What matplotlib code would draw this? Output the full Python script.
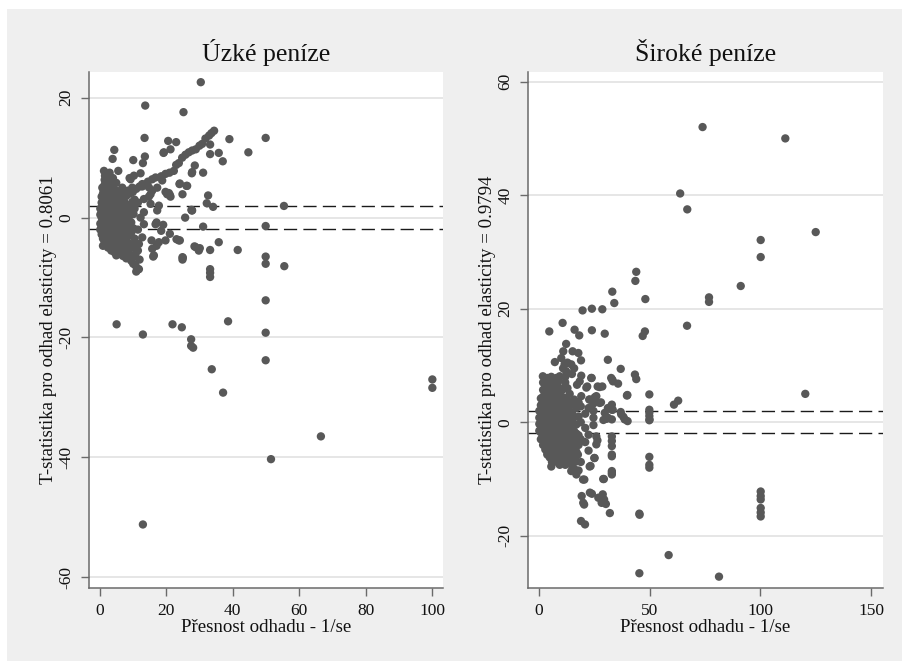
import matplotlib
matplotlib.use("Agg")
import matplotlib.pyplot as plt
import numpy as np

# ---------------- data: narrow money (Úzké peníze) ----------------
narrow_outliers = [
    (30.4, 22.6), (13.7, 18.7), (25.2, 17.6), (13.5, 13.3), (39.0, 13.1), (49.9, 13.3),
    (44.7, 10.9), (4.4, 11.3), (3.9, 9.8), (35.8, 10.8), (37.0, 9.4), (33.2, 12.2),
    (33.2, 10.6), (55.4, 1.95), (49.9, -1.4), (31.1, -1.5), (49.9, -6.5), (49.9, -7.7),
    (55.5, -8.1), (49.9, -13.8), (5.1, -17.8), (21.9, -17.8), (24.7, -18.3), (38.6, -17.3),
    (13.0, -19.5), (27.5, -20.3), (27.5, -21.4), (28.1, -21.7), (49.9, -19.2), (49.9, -23.8),
    (33.7, -25.3), (37.1, -29.2), (100.0, -27.0), (100.0, -28.4), (66.5, -36.5),
    (51.5, -40.3), (13.0, -51.2), (41.5, -5.4), (35.8, -4.1), (33.2, -8.6), (33.2, -9.2),
    (33.2, -9.9),
]
narrow_chain = [
    (34.4, 14.5), (33.6, 14.1), (32.9, 13.7), (31.8, 13.2), (30.8, 12.3), (30.0, 12.0),
    (28.9, 11.4), (27.8, 11.2), (26.8, 10.9), (25.8, 10.5), (24.8, 10.0), (23.8, 9.1),
    (23.0, 8.8), (22.3, 7.8), (21.0, 7.5), (19.8, 7.3), (18.5, 6.9), (16.8, 6.7),
    (15.8, 6.4), (14.5, 6.0), (13.0, 5.5), (12.0, 5.2), (11.0, 4.8), (10.0, 4.3), (9.0, 4.0),
    (19.2, 10.8), (20.6, 12.8), (23.0, 12.6), (21.3, 11.4), (19.3, 10.9),
]
narrow_mid = [
    (28.6, 8.7), (27.7, 7.4), (31.1, 7.5), (24.1, 5.7), (26.1, 5.3), (24.9, 3.9), (32.6, 3.7),
    (32.2, 2.4), (34.1, 1.8), (27.7, 1.2), (25.7, 0.0), (19.8, 4.3), (21.1, 3.8), (17.1, -0.8),
    (19.1, -1.2), (18.5, -2.2), (21.1, -2.7), (23.1, -3.6), (24.1, -3.8), (15.6, -3.8),
    (17.1, -4.7), (16.1, -6.5), (24.9, -6.6), (24.9, -7.0), (28.5, -4.8), (30.1, -5.1),
    (33.2, -5.4), (10.1, 9.6), (13.0, 9.1), (13.6, 10.2), (5.6, 7.8), (1.3, 7.8), (1.6, 7.0),
    (9.0, 6.6), (12.3, 7.4), (0.8, 5.0), (1.2, 4.5), (3.6, 5.7), (6.8, 5.0), (9.8, 5.0),
    (12.8, 5.2), (13.3, 3.1), (14.8, 3.5), (15.8, 4.5), (17.3, 5.0), (18.8, 6.2), (20.3, 3.9),
    (21.3, 3.5), (24.0, 5.6), (26.3, 5.3), (27.8, 7.6), (27.6, 1.3), (10.8, -6.0), (10.8, -8.0),
    (11.8, -8.6), (16.3, -6.3), (17.8, -4.1), (19.8, -3.8), (23.8, -3.8), (15.8, -5.2),
    (1.0, -4.7), (4.8, -5.8), (6.8, -5.5), (11.8, -4.4), (12.8, -3.3), (13.3, -1.1), (12.3, 0.0),
    (13.3, 0.9), (16.8, -1.1), (17.3, 1.2), (17.8, 2.0), (20.8, 4.1), (27.8, 1.2), (28.8, -4.9),
    (29.8, -5.5), (25.0, -6.7), (9.3, 6.4), (10.3, 7.0), (12.8, 5.6), (14.8, 5.05), (15.3, 3.9),
    (15.3, 2.3), (9.8, 2.6), (10.1, -7.7), (11.6, -8.6), (11.0, -9.0), (12.0, -7.0),
]
narrow_core = [
    (0.2, -1.0), (0.2, 0.5), (0.2, 1.5), (0.2, -2.0),
    (0.6, -2.8), (0.6, -1.5), (0.6, 0.0), (0.6, 1.2), (0.6, 2.5), (0.6, 3.5),
    (1.0, -3.5), (1.0, -2.2), (1.0, -0.8), (1.0, 0.6), (1.0, 2.0), (1.0, 3.2), (1.0, 4.0),
    (1.5, -4.0), (1.5, -3.0), (1.5, -1.8), (1.5, -0.5), (1.5, 0.8), (1.5, 2.2), (1.5, 3.6),
    (1.5, 5.5), (1.5, 6.3),
    (2.0, -4.5), (2.0, -3.2), (2.0, -2.0), (2.0, -0.9), (2.0, 0.3), (2.0, 1.5), (2.0, 2.8),
    (2.0, 4.2), (2.0, 5.2), (2.0, 6.8),
    (2.5, -5.0), (2.5, -3.8), (2.5, -2.5), (2.5, -1.2), (2.5, 0.0), (2.5, 1.1), (2.5, 2.3),
    (2.5, 3.4), (2.5, 4.6), (2.5, 5.8),
    (3.0, -4.2), (3.0, -3.0), (3.0, -1.6), (3.0, -0.4), (3.0, 0.9), (3.0, 2.0), (3.0, 3.0),
    (3.0, 4.0), (3.0, 5.0), (3.0, 6.2), (3.0, 7.5),
    (3.5, -5.5), (3.5, -4.5), (3.5, -3.3), (3.5, -2.1), (3.5, -0.8), (3.5, 0.4), (3.5, 1.6),
    (3.5, 2.7), (3.5, 3.8), (3.5, 4.8),
    (4.0, -5.0), (4.0, -3.8), (4.0, -2.6), (4.0, -1.3), (4.0, 0.0), (4.0, 1.2), (4.0, 2.4),
    (4.0, 3.5), (4.0, 4.6), (4.0, 5.5), (4.0, 6.6),
    (4.5, -5.8), (4.5, -4.4), (4.5, -3.0), (4.5, -1.7), (4.5, -0.5), (4.5, 0.8), (4.5, 2.0),
    (4.5, 3.1), (4.5, 4.2),
    (5.0, -6.3), (5.0, -5.2), (5.0, -4.0), (5.0, -2.8), (5.0, -1.5), (5.0, -0.2), (5.0, 1.0),
    (5.0, 2.2), (5.0, 3.3), (5.0, 4.5), (5.0, 5.8),
    (5.5, -5.6), (5.5, -4.3), (5.5, -3.2), (5.5, -2.0), (5.5, -0.8), (5.5, 0.5), (5.5, 1.6),
    (5.5, 2.8), (5.5, 4.0),
    (6.0, -6.0), (6.0, -4.8), (6.0, -3.6), (6.0, -2.4), (6.0, -1.1), (6.0, 0.2), (6.0, 1.3),
    (6.0, 2.6), (6.0, 3.6),
    (6.5, -5.2), (6.5, -4.0), (6.5, -2.8), (6.5, -1.5), (6.5, -0.3), (6.5, 1.0), (6.5, 2.0),
    (6.5, 3.2), (6.5, 4.3),
    (7.0, -6.4), (7.0, -5.0), (7.0, -3.5), (7.0, -2.2), (7.0, -0.8), (7.0, 0.6), (7.0, 1.8),
    (7.0, 3.0),
    (7.5, -5.5), (7.5, -4.0), (7.5, -2.6), (7.5, -1.2), (7.5, 0.2), (7.5, 1.5), (7.5, 2.5),
    (8.0, -6.8), (8.0, -5.0), (8.0, -3.4), (8.0, -2.0), (8.0, -0.5), (8.0, 1.0), (8.0, 2.2),
    (8.0, 3.6),
    (8.5, -5.8), (8.5, -4.2), (8.5, -2.8), (8.5, -1.0), (8.5, 0.5), (8.5, 4.5),
    (9.0, -6.2), (9.0, -4.6), (9.0, -3.0), (9.0, -1.5), (9.0, 0.3), (9.0, 2.0),
    (9.5, -7.2), (9.5, -5.0), (9.5, -2.5), (9.5, -0.8), (9.5, 1.2),
    (10.2, -4.5), (10.2, -1.8), (10.2, 0.6),
    (10.5, -6.5), (10.5, -3.5), (10.5, 1.5), (10.5, 3.0),
    (11.5, -5.5), (11.5, -2.0), (11.5, 2.5),
]

# ---------------- data: broad money (Široké peníze) ----------------
broad_outliers = [
    (73.9, 52.0), (111.2, 50.0), (63.8, 40.3), (67.0, 37.5), (124.9, 33.5), (100.1, 32.1),
    (100.1, 29.1), (91.1, 24.0), (76.8, 22.0), (76.8, 21.2), (44.0, 26.5), (43.6, 24.9),
    (48.1, 21.7), (33.2, 23.0), (34.1, 21.0), (19.8, 19.7), (24.0, 20.0), (28.7, 19.9),
    (10.8, 17.5), (16.2, 16.3), (24.0, 16.2), (66.9, 17.0), (4.8, 16.0), (18.3, 15.3),
    (29.8, 15.6), (46.9, 15.2), (47.9, 16.0), (12.4, 13.8), (11.1, 12.5), (15.3, 12.5),
    (17.9, 12.2), (19.1, 10.9), (7.3, 10.6), (31.2, 11.0), (37.0, 9.4), (43.4, 8.4),
    (44.0, 7.6), (33.2, 7.5), (35.8, 6.8), (40.0, 4.8), (49.9, 4.9), (49.9, 2.2), (49.9, 1.7),
    (49.9, 1.1), (49.9, 0.35), (61.0, 3.1), (62.9, 3.8), (120.2, 5.0), (49.9, -6.1),
    (49.9, -7.5), (49.9, -8.0), (45.4, -16.1), (58.6, -23.4), (45.4, -26.6), (81.3, -27.2),
    (100.1, -12.2), (100.1, -13.0), (100.1, -13.6), (100.1, -15.1), (100.1, -15.9),
    (100.1, -16.6),
]
broad_mid = [
    (33.0, 3.1), (33.0, 2.2), (33.0, 0.5), (33.0, -2.5), (33.0, -3.3), (33.0, -4.2),
    (33.0, -6.0), (33.0, -8.6), (33.0, -9.2), (29.1, -10.0), (25.1, -6.3), (23.4, -7.7),
    (20.6, -10.1), (19.4, -13.0), (20.1, -14.2), (20.5, -14.5), (19.1, -17.4), (20.9, -18.0),
    (23.1, -12.4), (24.0, -12.6), (28.9, -12.7), (29.5, -13.6), (30.3, -14.4), (32.1, -16.0),
    (26.9, -13.3), (28.4, -14.2), (23.9, 7.8), (21.9, 6.3), (26.6, 6.3), (28.7, 6.3),
    (22.8, 4.0), (25.3, 4.4), (28.1, 3.5), (30.6, 0.6), (29.2, 0.4), (38.2, 0.95), (40.1, 0.2),
    (37.0, 1.8), (10.2, 11.3), (11.7, 10.2), (14.7, 10.2), (12.4, 9.0), (9.5, 8.1), (1.9, 8.1),
    (5.7, 8.0), (19.2, 8.2), (23.7, 7.8), (32.7, 7.8), (33.5, 7.2), (18.5, 7.2), (21.5, 6.1),
    (27.5, 6.2), (17.3, 6.6), (19.2, 4.6), (23.0, 4.0), (26.0, 4.6), (27.5, 3.4), (39.8, 4.7),
    (29.8, 1.65), (32.7, 2.7), (37.2, 1.4), (38.8, 0.5), (3.9, -5.7), (5.7, -7.8), (9.5, -7.5),
    (13.2, -7.2), (17.7, -5.7), (14.7, -8.6), (17.0, -9.2), (20.0, -10.1), (23.0, -7.8),
    (25.2, -6.3), (29.4, -10.0), (33.0, -8.9), (33.0, -5.7), (26.0, -2.5), (26.0, -3.9),
    (26.5, -3.2), (24.7, 3.3), (24.7, 2.0), (24.7, 0.8), (24.7, -0.5), (31.2, 2.5), (31.2, 0.8),
    (33.4, 2.2), (50.0, 0.5), (45.5, -16.3),
]
broad_core = [
    (0.3, -1.5), (0.3, -0.3), (0.3, 0.8), (0.3, 2.0),
    (1.0, -3.0), (1.0, -1.8), (1.0, -0.6), (1.0, 0.6), (1.0, 1.8), (1.0, 3.0), (1.0, 4.2),
    (2.0, -4.0), (2.0, -2.8), (2.0, -1.5), (2.0, -0.3), (2.0, 0.9), (2.0, 2.1), (2.0, 3.3),
    (2.0, 4.5), (2.0, 5.7), (2.0, 7.0),
    (3.0, -4.8), (3.0, -3.5), (3.0, -2.2), (3.0, -1.0), (3.0, 0.2), (3.0, 1.4), (3.0, 2.6),
    (3.0, 3.8), (3.0, 5.0), (3.0, 6.2), (3.0, 7.4),
    (4.0, -5.5), (4.0, -4.2), (4.0, -3.0), (4.0, -1.7), (4.0, -0.5), (4.0, 0.7), (4.0, 1.9),
    (4.0, 3.1), (4.0, 4.3), (4.0, 5.5), (4.0, 6.7), (4.0, 7.8),
    (5.0, -6.2), (5.0, -4.9), (5.0, -3.6), (5.0, -2.3), (5.0, -1.0), (5.0, 0.3), (5.0, 1.5),
    (5.0, 2.7), (5.0, 3.9), (5.0, 5.1), (5.0, 6.4), (5.0, 7.6),
    (6.0, -7.0), (6.0, -5.5), (6.0, -4.2), (6.0, -2.9), (6.0, -1.6), (6.0, -0.3), (6.0, 1.0),
    (6.0, 2.2), (6.0, 3.5), (6.0, 4.8), (6.0, 6.0), (6.0, 7.3),
    (7.0, -6.0), (7.0, -4.7), (7.0, -3.4), (7.0, -2.1), (7.0, -0.8), (7.0, 0.5), (7.0, 1.7),
    (7.0, 3.0), (7.0, 4.3), (7.0, 5.6), (7.0, 6.9),
    (8.0, -6.6), (8.0, -5.2), (8.0, -3.9), (8.0, -2.6), (8.0, -1.3), (8.0, 0.0), (8.0, 1.3),
    (8.0, 2.6), (8.0, 3.9), (8.0, 5.2), (8.0, 6.5), (8.0, 7.8),
    (9.0, -7.2), (9.0, -5.8), (9.0, -4.4), (9.0, -3.0), (9.0, -1.7), (9.0, -0.4), (9.0, 0.9),
    (9.0, 2.2), (9.0, 3.5), (9.0, 4.8), (9.0, 6.1), (9.0, 7.3),
    (10.0, -6.4), (10.0, -5.0), (10.0, -3.5), (10.0, -2.1), (10.0, -0.8), (10.0, 0.6),
    (10.0, 2.0), (10.0, 3.3), (10.0, 4.6), (10.0, 5.9),
    (11.0, -6.9), (11.0, -5.5), (11.0, -4.0), (11.0, -2.6), (11.0, -1.2), (11.0, 0.2),
    (11.0, 1.6), (11.0, 3.0), (11.0, 4.4), (11.0, 5.8), (11.0, 9.5),
    (12.0, -7.5), (12.0, -6.0), (12.0, -4.5), (12.0, -3.0), (12.0, -1.5), (12.0, 0.0),
    (12.0, 1.4), (12.0, 2.8), (12.0, 4.2), (12.0, 7.0), (12.0, 8.0),
    (13.0, -6.5), (13.0, -5.0), (13.0, -3.5), (13.0, -2.0), (13.0, -0.5), (13.0, 1.0),
    (13.0, 2.4), (13.0, 3.8), (13.0, 6.0), (13.0, 10.5),
    (14.0, -7.0), (14.0, -5.5), (14.0, -4.0), (14.0, -2.4), (14.0, -0.9), (14.0, 0.6),
    (14.0, 2.0), (14.0, 5.0),
    (15.0, -7.6), (15.0, -6.0), (15.0, -4.4), (15.0, -2.8), (15.0, -1.3), (15.0, 0.2),
    (15.0, 1.6), (15.0, 3.2), (15.0, 8.5),
    (16.0, -8.2), (16.0, -6.4), (16.0, -4.8), (16.0, -3.2), (16.0, -1.6), (16.0, 0.9),
    (16.0, 4.0), (16.0, 9.5),
    (17.0, -6.9), (17.0, -5.2), (17.0, -3.6), (17.0, -2.0), (17.0, -0.4), (17.0, 2.5),
    (18.0, -8.5), (18.0, -4.0), (18.0, -2.3), (18.0, 1.0), (18.0, 3.5),
    (19.0, -7.0), (19.0, -3.0), (19.0, 0.0), (19.0, 2.8),
    (21.0, -3.5), (21.0, -1.0), (21.0, 1.5),
    (22.5, -5.0), (22.5, -2.2), (22.5, 2.5),
]

titles = ["Úzké peníze", "Široké peníze"]
ylabels = ["T-statistika pro odhad elasticity = 0.8061",
           "T-statistika pro odhad elasticity = 0.9794"]
xlabel = "Přesnost odhadu - 1/se"
xticks = [[0, 20, 40, 60, 80, 100], [0, 50, 100, 150]]
yticks = [[-60, -40, -20, 0, 20], [-20, 0, 20, 40, 60]]
xlims = [(-3.2, 103.2), (-4.8, 155.1)]
ylims = [(-61.8, 24.3), (-29.2, 61.7)]
crit = 1.96

panels = [narrow_outliers + narrow_chain + narrow_mid + narrow_core,
          broad_outliers + broad_mid + broad_core]

# ---------------- figure ----------------
W, H = 902, 661
BG = "#efefef"
fig = plt.figure(figsize=(W / 100, H / 100), dpi=100, facecolor=BG)
# thin white border at top and left
fig.patches.append(plt.Rectangle((0, 1 - 9 / H), 1, 9 / H, transform=fig.transFigure,
                                 facecolor="white", edgecolor="none"))
fig.patches.append(plt.Rectangle((0, 0), 7 / W, 1, transform=fig.transFigure,
                                 facecolor="white", edgecolor="none"))

FONT = "Liberation Serif"
plt.rcParams["font.family"] = [FONT, "DejaVu Serif"]

axes_rects = [
    (89 / W, 1 - 588 / H, (443 - 89) / W, (588 - 72) / H),
    (528 / W, 1 - 588 / H, (882.7 - 528) / W, (588 - 72) / H),
]

spine_col = "#6a6a6a"
for i in range(2):
    ax = fig.add_axes(axes_rects[i])
    ax.set_facecolor("white")
    pts = np.array(panels[i])
    ax.scatter(pts[:, 0], pts[:, 1], s=36, color="#585858", edgecolors="none", zorder=3)
    for yv in yticks[i]:
        ax.axhline(yv, color="#e6e6e6", lw=1.4, zorder=1)
    for yv in (crit, -crit):
        ln = ax.axhline(yv, color="#1a1a1a", lw=1.0, zorder=2)
        ln.set_dashes((9.5, 4.5))
    ax.set_xlim(*xlims[i])
    ax.set_ylim(*ylims[i])
    ax.set_xticks(xticks[i])
    ax.set_yticks(yticks[i])
    ax.set_yticklabels([str(v) for v in yticks[i]], rotation=90, va="center")
    for s in ("top", "right"):
        ax.spines[s].set_visible(False)
    for s in ("left", "bottom"):
        ax.spines[s].set_color(spine_col)
        ax.spines[s].set_linewidth(1.1)
    ax.tick_params(direction="out", length=5.5, width=1.0, color=spine_col,
                   labelsize=12.5, labelcolor="#111111", pad=5)
    ax.set_title(titles[i], fontsize=18.5, pad=8, color="#111111")
    ax.set_xlabel(xlabel, fontsize=13.6, labelpad=0, color="#111111")
    ax.set_ylabel(ylabels[i], fontsize=13.6, labelpad=1, color="#111111")

fig.savefig("out.png", dpi=100, facecolor=fig.get_facecolor())
